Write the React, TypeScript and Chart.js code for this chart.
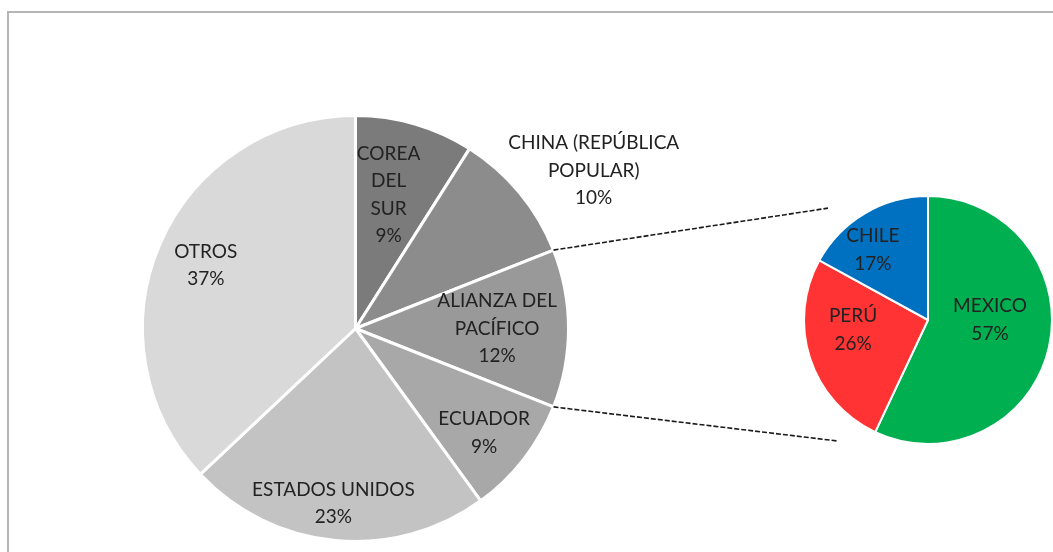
import React, { useEffect, useRef } from "react";
import { Chart, registerables } from "chart.js";
Chart.register(...registerables);

// ---- data ----
const mainCategories = ["COREA DEL SUR", "CHINA (REPÚBLICA POPULAR)", "ALIANZA DEL PACÍFICO", "ECUADOR", "ESTADOS UNIDOS", "OTROS"];
const mainValues = [9, 10, 12, 9, 23, 37];
const mainLabelLines = [["COREA", "DEL", "SUR"], ["CHINA (REPÚBLICA", "POPULAR)"], ["ALIANZA DEL", "PACÍFICO"], ["ECUADOR"], ["ESTADOS UNIDOS"], ["OTROS"]];
const subCategories = ["MEXICO", "PERÚ", "CHILE"];
const subValues = [57, 26, 17];
const subLabelLines = [["MEXICO"], ["PERÚ"], ["CHILE"]];

// ---- styles / placement ----
const mainColors = ["#7b7b7b", "#8c8c8c", "#999999", "#a8a8a8", "#c3c3c3", "#d9d9d9"];
const subColors = ["#00b050", "#ff3333", "#0070c0"];
// [angle deg clockwise from top, distance as fraction of radius]
const mainLabelPlace = [[13.9, 0.646], [56.5, 1.341], [90, 0.665], [129.1, 0.778], [187.2, 0.827], [292.9, 0.763]];
const subLabelPlace = [[90, 0.5], [262.4, 0.61], [321.8, 0.718]];
const splitIndex = 2;
const connectorEnds = [[318.2, 1.21], [216.6, 1.216]];
const FONT = "19px Lato, 'Open Sans', sans-serif";
const LINE_H = 27.5;
const TEXT_COLOR = "#222222";

function labelPlugin(lines: string[][], place: number[][], values: number[]) {
  return {
    id: "sliceLabels",
    afterDatasetsDraw(chart: any) {
      const ctx = chart.ctx;
      const meta = chart.getDatasetMeta(0);
      const total = values.reduce((a, b) => a + b, 0);
      ctx.save();
      ctx.font = FONT;
      ctx.fillStyle = TEXT_COLOR;
      ctx.textAlign = "center";
      ctx.textBaseline = "middle";
      meta.data.forEach((arc: any, i: number) => {
        const p = arc.getProps(["x", "y", "outerRadius"], true);
        const a = (place[i][0] * Math.PI) / 180;
        const d = place[i][1] * p.outerRadius;
        const cx = p.x + d * Math.sin(a);
        const cy = p.y - d * Math.cos(a);
        const txt = [...lines[i], Math.round((values[i] / total) * 100) + "%"];
        const top = cy - ((txt.length - 1) * LINE_H) / 2;
        txt.forEach((t, k) => ctx.fillText(t, cx, top + k * LINE_H));
      });
      ctx.restore();
    },
  };
}

export default function App() {
  const c1 = useRef<HTMLCanvasElement>(null);
  const c2 = useRef<HTMLCanvasElement>(null);

  useEffect(() => {
    const main = new Chart(c1.current!, {
      type: "pie",
      data: {
        labels: mainCategories,
        datasets: [{ data: mainValues, backgroundColor: mainColors, borderColor: "#ffffff", borderWidth: 3 }],
      },
      options: {
        responsive: false,
        animation: false,
        layout: { padding: { left: 141, top: 114, right: 483, bottom: 9 } },
        plugins: { legend: { display: false }, tooltip: { enabled: false } },
      },
      plugins: [labelPlugin(mainLabelLines, mainLabelPlace, mainValues)],
    });

    const connector = {
      id: "connector",
      afterDraw(chart: any) {
        const ctx = chart.ctx;
        const arc: any = main.getDatasetMeta(0).data[splitIndex];
        const p = arc.getProps(["x", "y", "startAngle", "endAngle", "outerRadius"], true);
        const s: any = chart.getDatasetMeta(0).data[0];
        const q = s.getProps(["x", "y", "outerRadius"], true);
        const starts = [p.startAngle, p.endAngle].map((t: number) => [p.x + p.outerRadius * Math.cos(t), p.y + p.outerRadius * Math.sin(t)]);
        ctx.save();
        ctx.strokeStyle = "#1a1a1a";
        ctx.lineWidth = 1.6;
        ctx.setLineDash([5, 2]);
        starts.forEach((st: number[], i: number) => {
          const a = (connectorEnds[i][0] * Math.PI) / 180;
          const d = connectorEnds[i][1] * q.outerRadius;
          ctx.beginPath();
          ctx.moveTo(st[0], st[1]);
          ctx.lineTo(q.x + d * Math.sin(a), q.y - d * Math.cos(a));
          ctx.stroke();
        });
        ctx.restore();
      },
    };

    const sub = new Chart(c2.current!, {
      type: "pie",
      data: {
        labels: subCategories,
        datasets: [{ data: subValues, backgroundColor: subColors, borderColor: "#ffffff", borderWidth: 2 }],
      },
      options: {
        responsive: false,
        animation: false,
        layout: { padding: { left: 803, top: 195, right: 0, bottom: 107 } },
        plugins: { legend: { display: false }, tooltip: { enabled: false } },
      },
      plugins: [labelPlugin(subLabelLines, subLabelPlace, subValues), connector],
    });

    return () => {
      sub.destroy();
      main.destroy();
    };
  }, []);

  return (
    <div style={{ position: "fixed", left: 0, top: 0, width: 1053, height: 552, overflow: "hidden", background: "#ffffff" }}>
      <div style={{ position: "absolute", left: 7, top: 11, width: 1100, height: 600, border: "2px solid #b5b5b5" }} />
      <canvas ref={c1} width={1053} height={552} style={{ position: "absolute", left: 0, top: 0 }} />
      <canvas ref={c2} width={1053} height={552} style={{ position: "absolute", left: 0, top: 0 }} />
    </div>
  );
}
